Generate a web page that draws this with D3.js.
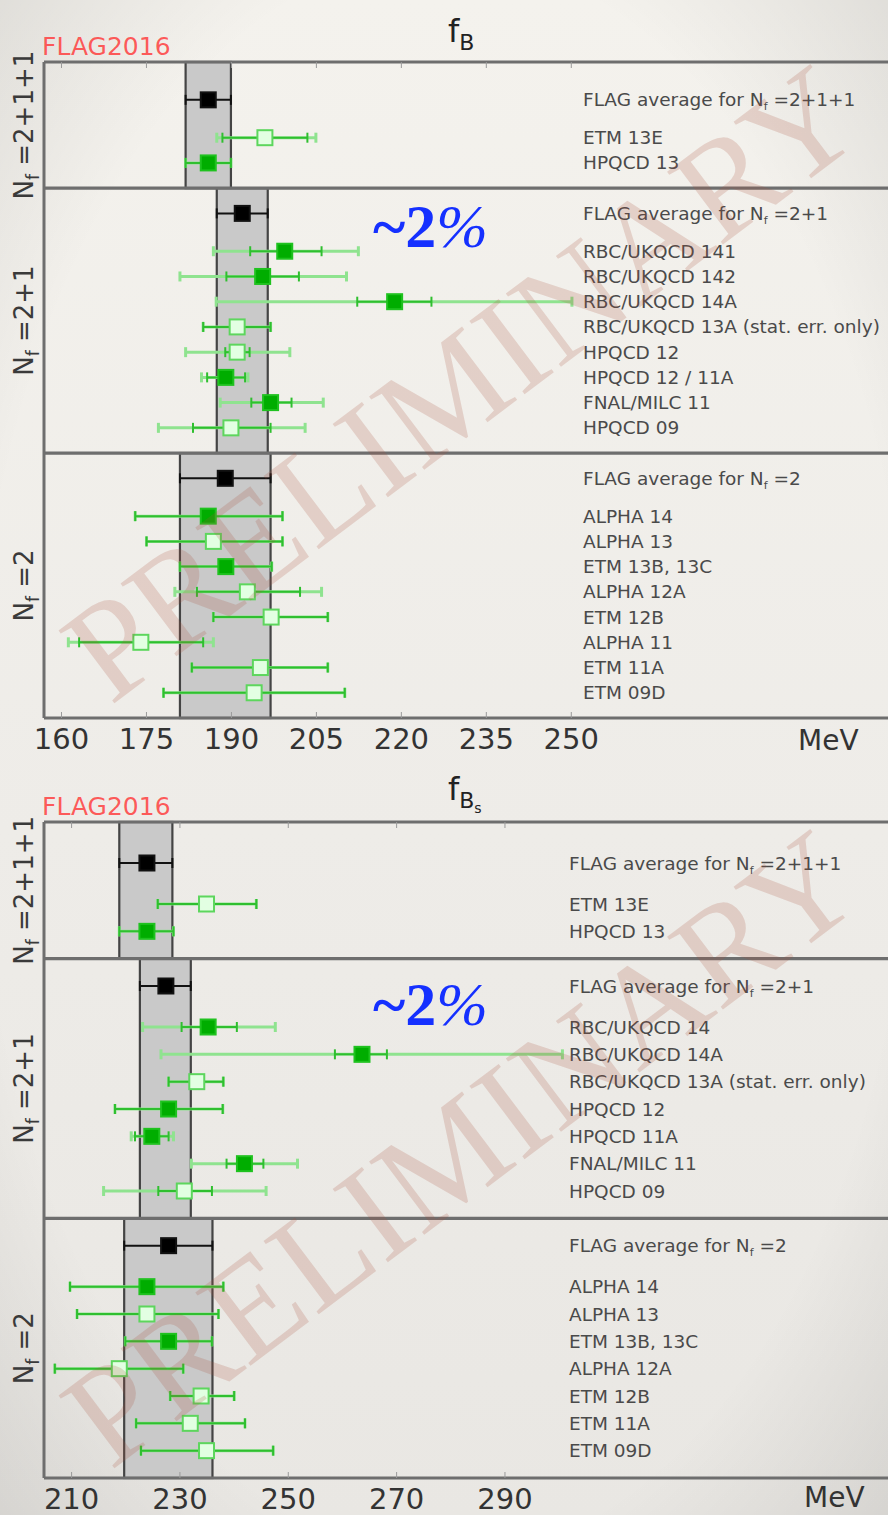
<!DOCTYPE html>
<html><head><meta charset="utf-8">
<script src="https://cdn.jsdelivr.net/npm/d3@7"></script>
<style>body{margin:0;background:#f1efea;} svg{display:block}</style>
</head><body><svg id="c" width="888" height="1515"></svg>
<script>
// ================= DATA =================
const groupNames = ["2+1+1", "2+1", "2"];

// f_B panel
const fbTicks = [160, 175, 190, 205, 220, 235, 250];
const fbAvg   = [186, 192, 189];
const fbAvgLo = [182, 187.5, 181];
const fbAvgHi = [190, 196.5, 197];
const fbLabels = ["ETM 13E", "HPQCD 13",
  "RBC/UKQCD 141", "RBC/UKQCD 142", "RBC/UKQCD 14A", "RBC/UKQCD 13A (stat. err. only)",
  "HPQCD 12", "HPQCD 12 / 11A", "FNAL/MILC 11", "HPQCD 09",
  "ALPHA 14", "ALPHA 13", "ETM 13B, 13C", "ALPHA 12A", "ETM 12B", "ALPHA 11", "ETM 11A", "ETM 09D"];
const fbGroup  = [0, 0, 1, 1, 1, 1, 1, 1, 1, 1, 2, 2, 2, 2, 2, 2, 2, 2];
const fbValue  = [196, 186, 199.5, 195.6, 218.9, 191.1, 191.1, 189.1, 197, 190, 186, 186.9, 189.1, 192.9, 197.1, 174.1, 195.2, 194.1];
const fbStatLo = [188.5, 182, 193.4, 189.2, 212.3, 185.1, 189, 185.8, 193.6, 183.3, 173.1, 175.1, 181, 184, 186.9, 163.2, 183.1, 178.1];
const fbStatHi = [203.5, 190, 206, 202, 225.4, 197, 193.3, 192.5, 200.7, 197, 199.1, 199.1, 197.2, 202.2, 207.1, 185.1, 207.1, 210.1];
const fbTotLo  = [187.5, 182, 186.9, 181, 187.4, 185.1, 182, 184.8, 188.1, 177.2, 173.1, 175.1, 181, 180.1, 186.9, 161.3, 183.1, 178.1];
const fbTotHi  = [205, 190, 212.5, 210.4, 250.2, 197, 200.4, 193, 206.3, 203.1, 199.1, 199.1, 197.2, 206, 207.1, 186.9, 207.1, 210.1];
const fbFilled = [0, 1, 1, 1, 1, 0, 0, 1, 1, 0, 1, 0, 1, 0, 0, 0, 0, 0];

// f_Bs panel
const fbsTicks = [210, 230, 250, 270, 290];
const fbsAvg   = [224, 227.5, 228];
const fbsAvgLo = [218.9, 222.7, 219.8];
const fbsAvgHi = [228.7, 232.1, 236.1];
const fbsLabels = ["ETM 13E", "HPQCD 13",
  "RBC/UKQCD 14", "RBC/UKQCD 14A", "RBC/UKQCD 13A (stat. err. only)", "HPQCD 12", "HPQCD 11A", "FNAL/MILC 11", "HPQCD 09",
  "ALPHA 14", "ALPHA 13", "ETM 13B, 13C", "ALPHA 12A", "ETM 12B", "ETM 11A", "ETM 09D"];
const fbsGroup  = [0, 0, 1, 1, 1, 1, 1, 1, 1, 2, 2, 2, 2, 2, 2, 2];
const fbsValue  = [235, 224, 235.3, 263.7, 233.2, 228, 224.9, 242, 230.9, 224, 224, 228, 218.9, 234, 232, 235];
const fbsStatLo = [226, 218.9, 230.4, 258.7, 228, 218.1, 221.8, 238.7, 226.1, 209.8, 211.1, 220, 207, 228.3, 222, 222.9];
const fbsStatHi = [244.2, 228.9, 240.6, 268.3, 238.1, 238, 228, 245.5, 236, 238.1, 237.2, 236, 230.7, 240.1, 242.1, 247.3];
const fbsTotLo  = [226, 218.9, 223.2, 226.6, 228, 218.1, 221.1, 232.2, 216, 209.8, 211.1, 220, 207, 228.3, 222, 222.9];
const fbsTotHi  = [244.2, 228.9, 247.7, 300.7, 238.1, 238, 228.9, 251.8, 246, 238.1, 237.2, 236, 230.7, 240.1, 242.1, 247.3];
const fbsFilled = [0, 1, 1, 1, 0, 1, 1, 1, 0, 1, 0, 1, 0, 0, 0, 0];

// ================= DRAW =================
const svg = d3.select("#c");
const W = 888, H = 1515;

const defs = svg.append("defs");
const bg = defs.append("linearGradient").attr("id", "bg").attr("x1", 0).attr("y1", 0).attr("x2", 0).attr("y2", 1);
bg.append("stop").attr("offset", "0%").attr("stop-color", "#f4f2ed");
bg.append("stop").attr("offset", "55%").attr("stop-color", "#eeece8");
bg.append("stop").attr("offset", "100%").attr("stop-color", "#e9e7e3");
const vg = defs.append("radialGradient").attr("id", "vg").attr("cx", "50%").attr("cy", "50%").attr("r", "75%");
vg.append("stop").attr("offset", "70%").attr("stop-color", "#000").attr("stop-opacity", 0);
vg.append("stop").attr("offset", "100%").attr("stop-color", "#000").attr("stop-opacity", 0.10);
svg.append("rect").attr("width", W).attr("height", H).attr("fill", "url(#bg)");
svg.append("rect").attr("width", W).attr("height", H).attr("fill", "url(#vg)");

const FONT = "DejaVu Sans, sans-serif";

function drawPanel(cfg) {
  const g = svg.append("g");
  const x = d3.scaleLinear().domain(cfg.domain).range([cfg.left, cfg.right]);
  const counts = [0, 1, 2].map(k => cfg.group.filter(v => v === k).length);
  const flagPos = [1.5, 1, 1];
  const secStart = [];
  let acc = 0;
  counts.forEach((n, k) => { secStart.push(acc); acc += flagPos[k] + 1.5 + n; });
  const total = acc;
  const y = d3.scaleLinear().domain([0, total]).range([cfg.top, cfg.bottom]);
  const secEnd = counts.map((n, k) => secStart[k] + flagPos[k] + 1.5 + n);

  const rowIdx = [];
  const seen = [0, 0, 0];
  cfg.group.forEach((gk, i) => { rowIdx.push(secStart[gk] + flagPos[gk] + 1.5 + seen[gk]); seen[gk]++; });

  // FLAG bands
  [0, 1, 2].forEach(k => {
    g.append("rect")
      .attr("x", x(cfg.avgLo[k])).attr("y", y(secStart[k]))
      .attr("width", x(cfg.avgHi[k]) - x(cfg.avgLo[k]))
      .attr("height", y(secEnd[k]) - y(secStart[k]))
      .attr("fill", "#c9c9c9").attr("stroke", "#444").attr("stroke-width", 2.2);
  });

  // frame lines
  const lines = [cfg.top, y(secEnd[0]), y(secEnd[1]), cfg.bottom];
  lines.forEach(yy => {
    g.append("line").attr("x1", cfg.left).attr("x2", W).attr("y1", yy).attr("y2", yy)
      .attr("stroke", "#6e6e6e").attr("stroke-width", 3.2);
  });
  g.append("line").attr("x1", cfg.left).attr("x2", cfg.left).attr("y1", cfg.top).attr("y2", cfg.bottom)
    .attr("stroke", "#6e6e6e").attr("stroke-width", 3);

  // axes
  const axB = g.append("g").attr("transform", `translate(0,${cfg.bottom})`)
    .call(d3.axisBottom(x).tickValues(cfg.ticks).tickSize(-6).tickPadding(10).tickFormat(d3.format("d")));
  axB.select(".domain").remove();
  axB.selectAll(".tick line").attr("stroke", "#9a9a9a");
  axB.selectAll(".tick text").attr("font-family", FONT).attr("font-size", 29).attr("fill", "#333");
  const axT = g.append("g").attr("transform", `translate(0,${cfg.top})`)
    .call(d3.axisTop(x).tickValues(cfg.ticks).tickSize(-6).tickFormat(""));
  axT.select(".domain").remove();
  axT.selectAll(".tick line").attr("stroke", "#9a9a9a");

  g.append("text").attr("x", cfg.mevX).attr("y", cfg.bottom + cfg.mevDy).attr("font-family", FONT)
    .attr("font-size", 28).attr("fill", "#333").text("MeV");

  // group labels (rotated)
  [0, 1, 2].forEach(k => {
    const cy = (y(secStart[k]) + y(secEnd[k])) / 2;
    const t = g.append("text").attr("transform", `translate(33,${cy}) rotate(-90)`)
      .attr("text-anchor", "middle").attr("font-family", FONT).attr("font-size", 26).attr("fill", "#3a3a3a");
    t.append("tspan").text("N");
    t.append("tspan").attr("font-size", 17).attr("dy", 6).text("f");
    t.append("tspan").attr("dy", -6).text(" =" + groupNames[k]);
  });

  const green = "#2fbf2f", lightGreen = "#8fe38f";
  const capH = 5;
  function errBar(yy, v, sLo, sHi, tLo, tHi, dark) {
    const col = dark ? "#111" : green;
    if (!dark) {
      g.append("line").attr("x1", x(tLo)).attr("x2", x(tHi)).attr("y1", yy).attr("y2", yy)
        .attr("stroke", lightGreen).attr("stroke-width", 3);
      [tLo, tHi].forEach(t => g.append("line").attr("x1", x(t)).attr("x2", x(t)).attr("y1", yy - capH).attr("y2", yy + capH)
        .attr("stroke", lightGreen).attr("stroke-width", 3));
    }
    g.append("line").attr("x1", x(sLo)).attr("x2", x(sHi)).attr("y1", yy).attr("y2", yy)
      .attr("stroke", col).attr("stroke-width", 2);
    [sLo, sHi].forEach(t => g.append("line").attr("x1", x(t)).attr("x2", x(t)).attr("y1", yy - capH).attr("y2", yy + capH)
      .attr("stroke", col).attr("stroke-width", 2));
  }
  const ms = 15;
  function marker(yy, v, type) {
    const fill = type === "avg" ? "#000" : (type ? "#00ad00" : "#e2ffe2");
    const stroke = type === "avg" ? "#111" : (type ? "#1fc21f" : "#5dd65d");
    g.append("rect").attr("x", x(v) - ms / 2).attr("y", yy - ms / 2).attr("width", ms).attr("height", ms)
      .attr("fill", fill).attr("stroke", stroke).attr("stroke-width", 2);
  }

  // FLAG averages
  [0, 1, 2].forEach(k => {
    const yy = y(secStart[k] + flagPos[k]);
    errBar(yy, cfg.avg[k], cfg.avgLo[k], cfg.avgHi[k], cfg.avgLo[k], cfg.avgHi[k], true);
    marker(yy, cfg.avg[k], "avg");
    const t = g.append("text").attr("x", cfg.labelX).attr("y", yy + 6.5).attr("font-family", FONT)
      .attr("font-size", 18.5).attr("fill", "#4a4a4a");
    t.append("tspan").text("FLAG average for N");
    t.append("tspan").attr("font-size", 11).attr("dy", 4).text("f");
    t.append("tspan").attr("dy", -4).text(" =" + groupNames[k]);
  });

  // data points
  cfg.labels.forEach((lab, i) => {
    const yy = y(rowIdx[i]);
    errBar(yy, cfg.value[i], cfg.statLo[i], cfg.statHi[i], cfg.totLo[i], cfg.totHi[i], false);
    marker(yy, cfg.value[i], cfg.filled[i]);
    g.append("text").attr("x", cfg.labelX).attr("y", yy + 6.5).attr("font-family", FONT)
      .attr("font-size", 18.5).attr("fill", "#4a4a4a").text(lab);
  });

  // title
  const tt = g.append("text").attr("x", 448).attr("y", cfg.titleY).attr("font-family", FONT)
    .attr("font-size", 32).attr("fill", "#222");
  tt.append("tspan").text("f");
  tt.append("tspan").attr("font-size", 22).attr("dy", 8).text("B");
  if (cfg.sub) tt.append("tspan").attr("font-size", 14).attr("dy", 5).text(cfg.sub);

  // FLAG2016
  g.append("text").attr("x", 42).attr("y", cfg.top - 7).attr("font-family", FONT).attr("font-size", 25)
    .attr("fill", "#ff3f3f").attr("fill-opacity", 0.85).text("FLAG2016");

  // ~2%
  const pc = g.append("text").attr("x", 373).attr("y", cfg.pctY).attr("font-family", "Liberation Serif, serif")
    .attr("font-size", 62).attr("font-weight", "bold").attr("fill", "#1530ff");
  pc.append("tspan").text("~2");
  pc.append("tspan").attr("font-style", "italic").attr("font-weight", "normal").text("%");

  // watermark
  g.append("text").attr("transform", `translate(470,${cfg.wmY}) rotate(-37)`)
    .attr("text-anchor", "middle").attr("dominant-baseline", "middle")
    .attr("font-family", "Liberation Serif, serif").attr("font-size", 140)
    .attr("fill", "#a8523c").attr("fill-opacity", 0.2).text("PRELIMINARY");
}

drawPanel({
  domain: [157, 306], left: 44, right: 888, top: 62, bottom: 718,
  ticks: fbTicks, avg: fbAvg, avgLo: fbAvgLo, avgHi: fbAvgHi,
  labels: fbLabels, group: fbGroup, value: fbValue, statLo: fbStatLo, statHi: fbStatHi,
  totLo: fbTotLo, totHi: fbTotHi, filled: fbFilled,
  labelX: 583, mevX: 798, mevDy: 32, titleY: 42, sub: null, pctY: 247, wmY: 395
});
drawPanel({
  domain: [205, 360.8], left: 44, right: 888, top: 822, bottom: 1478,
  ticks: fbsTicks, avg: fbsAvg, avgLo: fbsAvgLo, avgHi: fbsAvgHi,
  labels: fbsLabels, group: fbsGroup, value: fbsValue, statLo: fbsStatLo, statHi: fbsStatHi,
  totLo: fbsTotLo, totHi: fbsTotHi, filled: fbsFilled,
  labelX: 569, mevX: 804, mevDy: 29, titleY: 800, sub: "s", pctY: 1025, wmY: 1160
});
</script></body></html>
